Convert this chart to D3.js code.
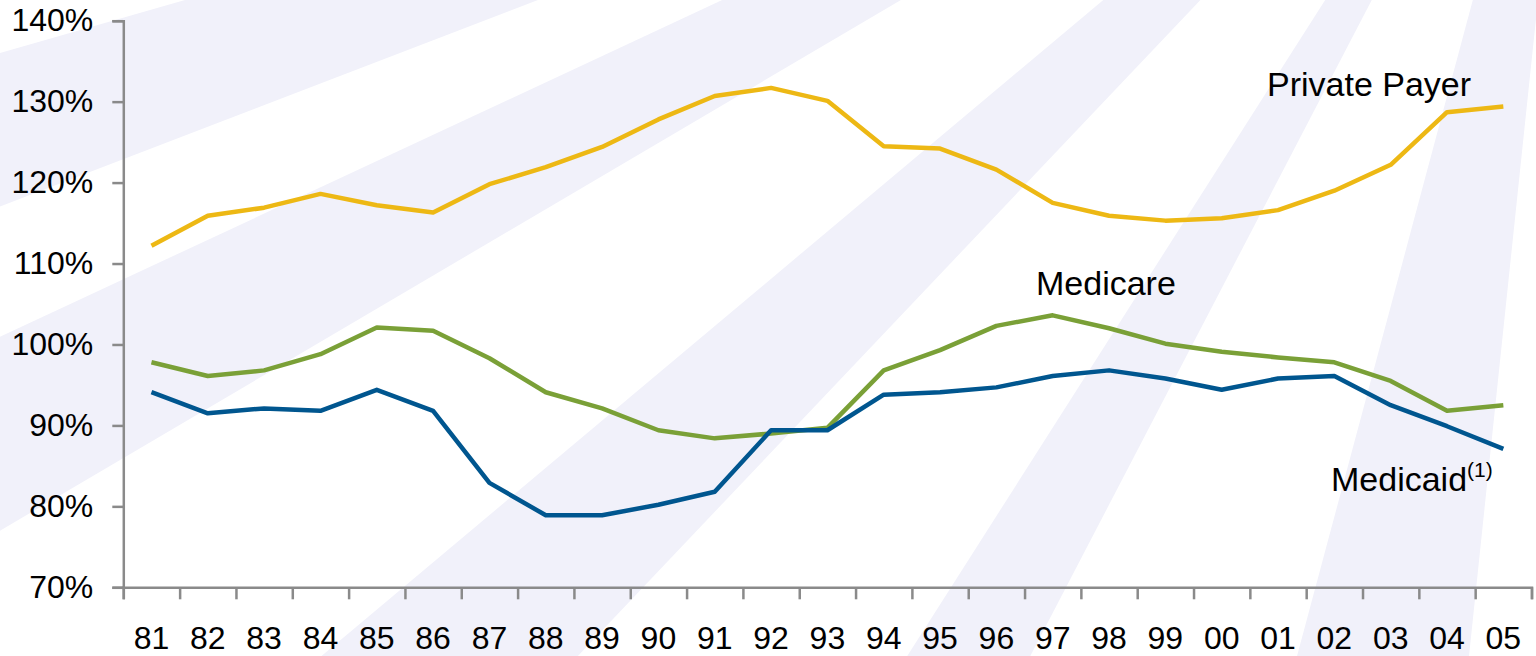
<!DOCTYPE html>
<html>
<head>
<meta charset="utf-8">
<script src="https://cdn.jsdelivr.net/npm/d3@7"></script>
<style>
  html, body { margin: 0; padding: 0; background: #ffffff; }
  svg { display: block; }
  text { font-family: "Liberation Sans", Arial, Helvetica, sans-serif; fill: #000; }
</style>
</head>
<body>
<svg id="chart" width="1536" height="656"></svg>
<script>
// ---- data ----
const years = ["81","82","83","84","85","86","87","88","89","90","91","92","93","94","95","96","97","98","99","00","01","02","03","04","05"];
const privatePayer = [112.2,115.9,116.9,118.6,117.2,116.3,119.8,121.9,124.4,127.8,130.7,131.7,130.1,124.5,124.2,121.6,117.5,115.9,115.3,115.6,116.6,119.0,122.2,128.7,129.4];
const medicare     = [97.8,96.1,96.8,98.8,102.1,101.7,98.3,94.1,92.1,89.4,88.4,89.0,89.7,96.8,99.3,102.3,103.6,102.0,100.1,99.1,98.4,97.8,95.5,91.8,92.5];
const medicaid     = [94.1,91.5,92.1,91.8,94.4,91.8,82.9,78.9,78.9,80.2,81.8,89.4,89.4,93.8,94.1,94.7,96.1,96.8,95.8,94.4,95.8,96.1,92.5,89.9,87.1];
const yTicks = [70,80,90,100,110,120,130,140];
const seriesNames = ["Private Payer","Medicare","Medicaid"];
const seriesColors = ["#EDB814","#7AA037","#00568F"];

// decorative background ray angles (degrees)
const rayBands = [[96,105],[117.5,122.5],[133.5,140],[149.5,155],[159,164]];

(function draw() {
  const svg = d3.select("#chart");

  // ---- background rays ----
  const cx = 1580, cy = -400, R = 4000;
  const bg = svg.append("g");
  rayBands.forEach(([a1,a2]) => {
    const r1 = a1*Math.PI/180, r2 = a2*Math.PI/180;
    const p = d3.path();
    p.moveTo(cx, cy);
    p.lineTo(cx + R*Math.cos(r1), cy + R*Math.sin(r1));
    p.lineTo(cx + R*Math.cos(r2), cy + R*Math.sin(r2));
    p.closePath();
    bg.append("path").attr("d", p.toString()).attr("fill", "#F1F1FA");
  });

  // ---- scales ----
  const mLeft = 123.3, mRight = 1531.5, mTop = 20.7, mBottom = 587.3;
  const x = d3.scaleBand().domain(years).range([mLeft, mRight]).padding(0);
  const xc = d => x(d) + x.bandwidth()/2;
  const y = d3.scaleLinear().domain([70,140]).range([mBottom, mTop]);

  const axisColor = "#8a8a8a";

  // y axis
  const yAxis = svg.append("g").attr("transform", `translate(${mLeft},0)`)
    .call(d3.axisLeft(y).tickValues(yTicks).tickSize(11).tickPadding(19).tickFormat(d => d + "%"));
  yAxis.select(".domain").attr("stroke", axisColor).attr("stroke-width", 2.5);
  yAxis.selectAll(".tick line").attr("stroke", axisColor).attr("stroke-width", 2.5);
  yAxis.selectAll(".tick text").attr("font-size", 32).attr("font-family", "Liberation Sans, Arial, sans-serif").attr("fill", "#000");

  // x axis: ticks at band boundaries
  const xb = d3.scaleLinear().domain([0, years.length]).range([mLeft, mRight]);
  const xAxisTicks = svg.append("g").attr("transform", `translate(0,${mBottom})`)
    .call(d3.axisBottom(xb).tickValues(d3.range(years.length + 1)).tickSize(12).tickFormat(""));
  xAxisTicks.select(".domain").attr("stroke", axisColor).attr("stroke-width", 2.5);
  xAxisTicks.selectAll(".tick line").attr("stroke", axisColor).attr("stroke-width", 2.5);

  const xAxisLabels = svg.append("g").attr("transform", `translate(0,${mBottom})`)
    .call(d3.axisBottom(x).tickSize(0).tickPadding(38.5));
  xAxisLabels.select(".domain").remove();
  xAxisLabels.selectAll(".tick text").attr("font-size", 32).attr("font-family", "Liberation Sans, Arial, sans-serif").attr("fill", "#000");

  // ---- lines ----
  const line = d3.line().x((d,i) => xc(years[i])).y(d => y(d));
  [privatePayer, medicare, medicaid].forEach((s, i) => {
    svg.append("path").datum(s)
      .attr("d", line)
      .attr("fill", "none")
      .attr("stroke", seriesColors[i])
      .attr("stroke-width", 4.5)
      .attr("stroke-linejoin", "round");
  });

  // ---- series labels ----
  svg.append("text").attr("x", 1267).attr("y", 96).attr("font-size", 34).text(seriesNames[0]);
  svg.append("text").attr("x", 1036).attr("y", 295).attr("font-size", 34).text(seriesNames[1]);
  const mt = svg.append("text").attr("x", 1331).attr("y", 491).attr("font-size", 34);
  mt.append("tspan").text(seriesNames[2]);
  mt.append("tspan").attr("font-size", 21).attr("dy", -14).text("(1)");
})();
</script>
</body>
</html>
